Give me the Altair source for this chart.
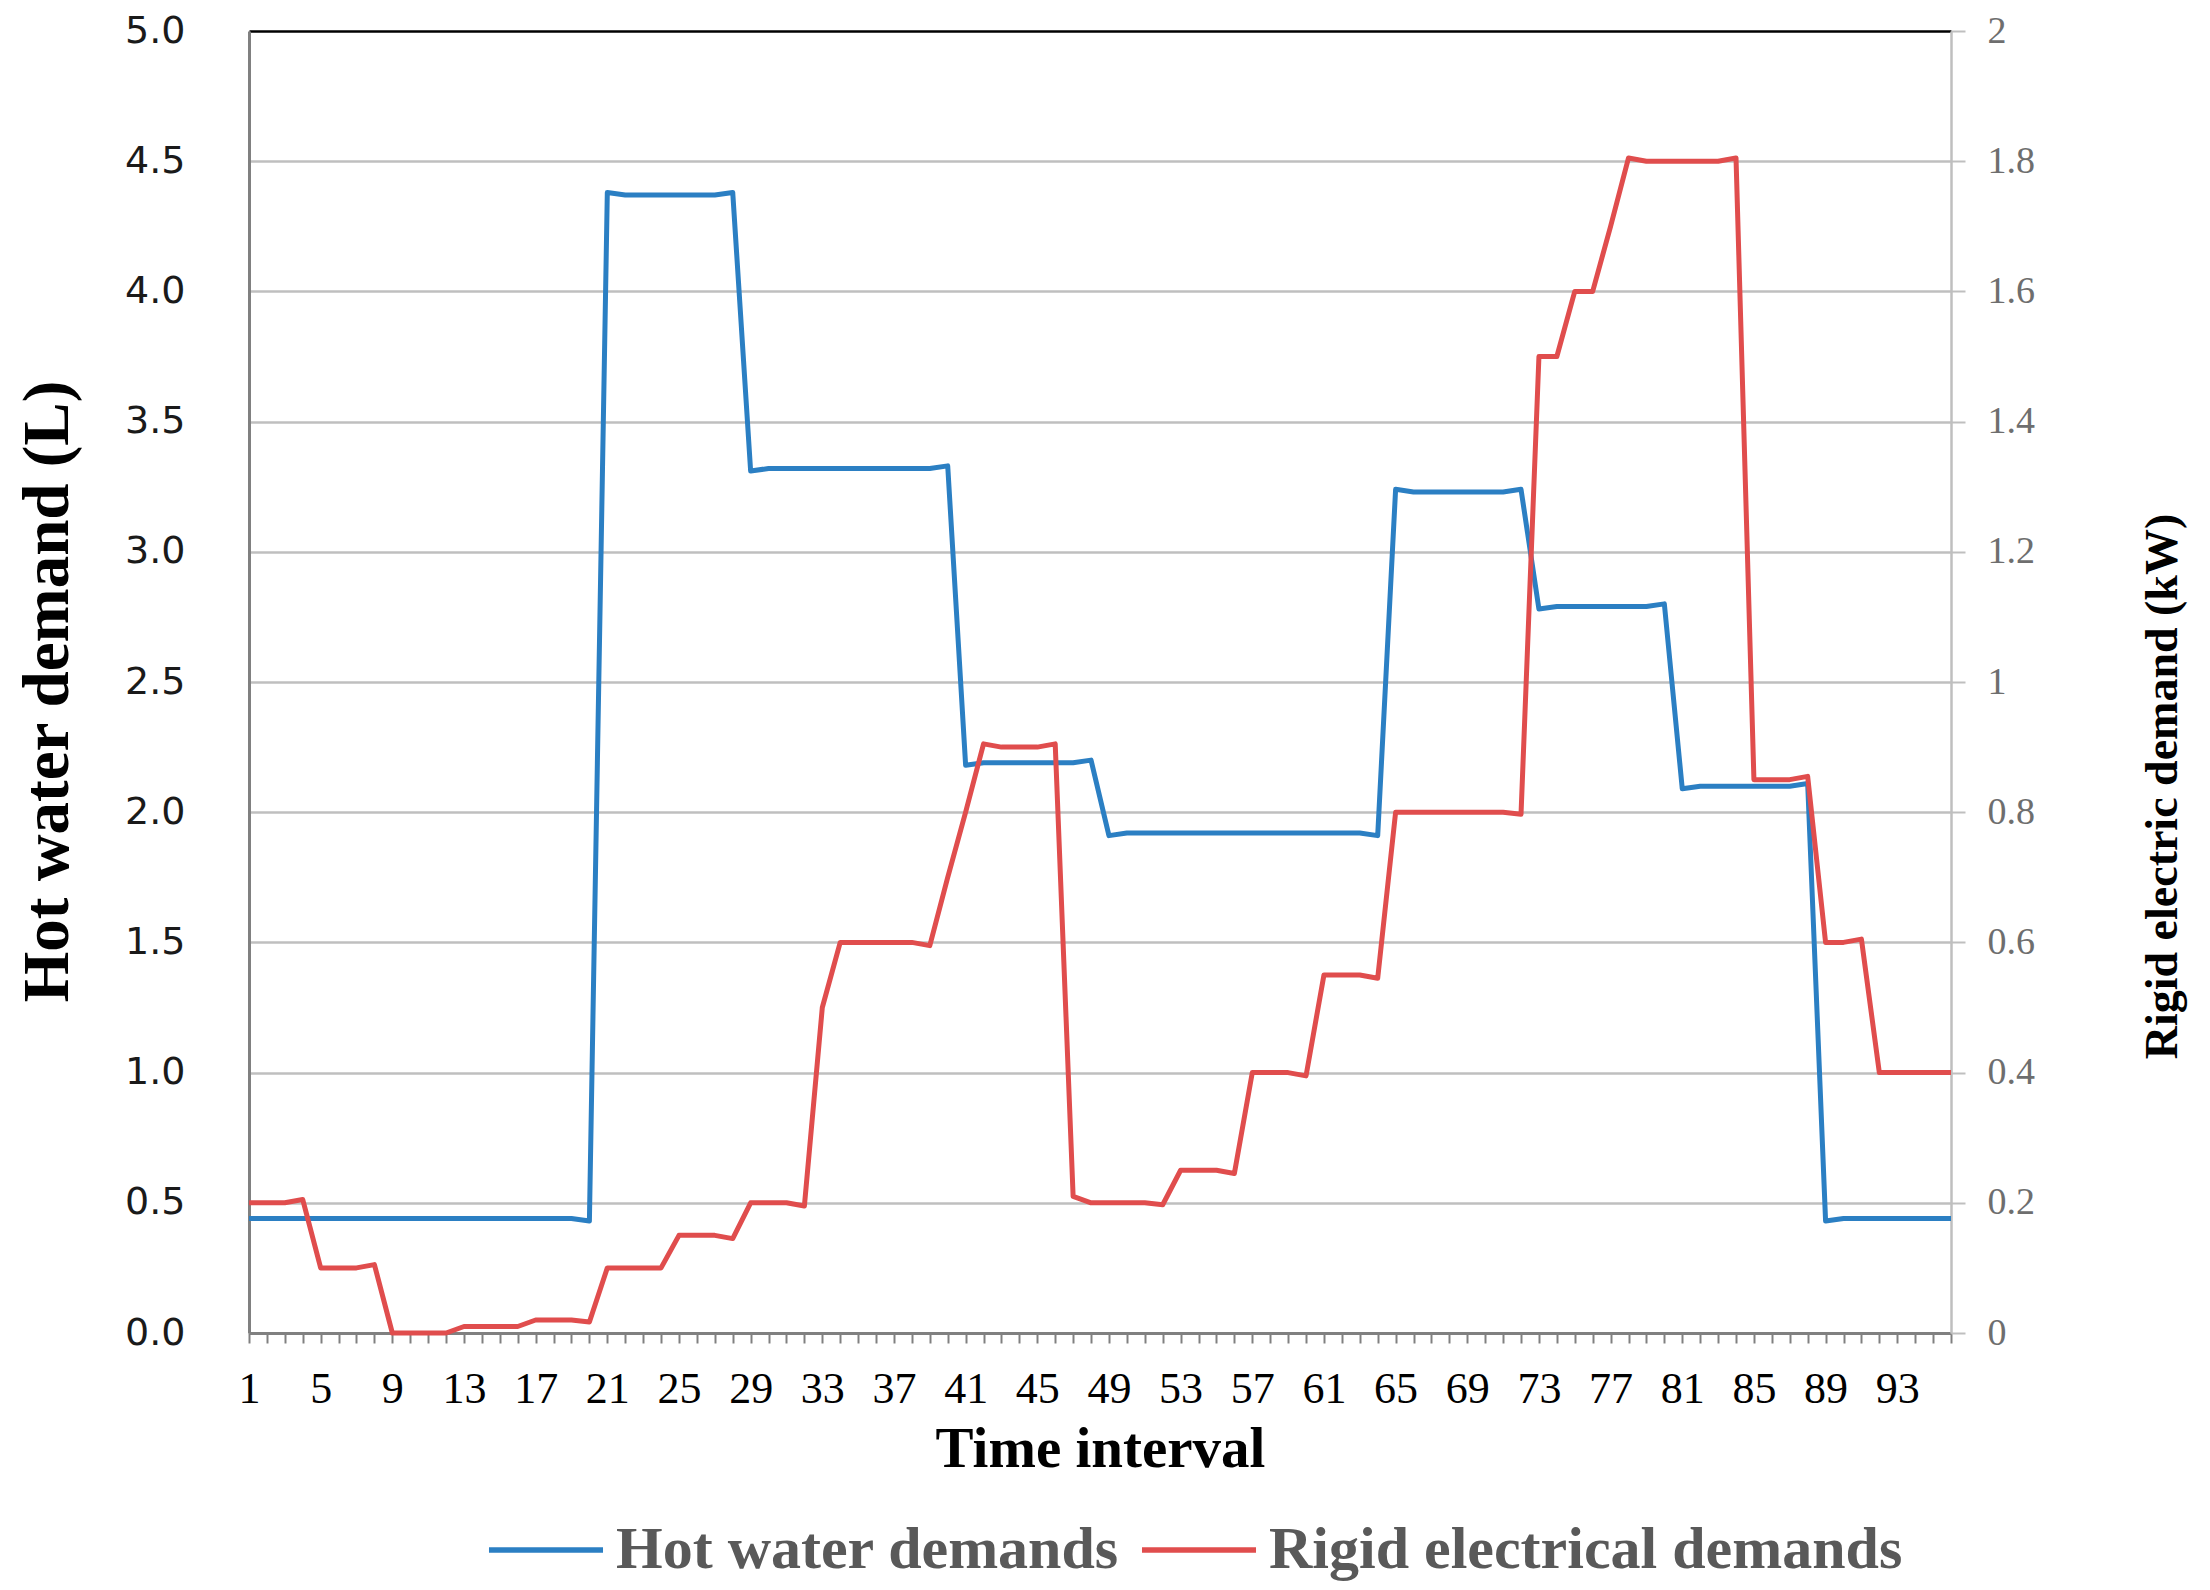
import altair as alt
import pandas as pd

# ---- data ----
intervals = list(range(1, 97))

hot_water = (
    [0.44] * 19 + [0.43] +
    [4.38] + [4.37] * 6 + [4.38] +
    [3.31] + [3.32] * 10 + [3.33] +
    [2.18] + [2.19] * 6 + [2.20] +
    [1.91] + [1.92] * 14 + [1.91] +
    [3.24] + [3.23] * 6 + [3.24] +
    [2.78] + [2.79] * 6 + [2.80] +
    [2.09] + [2.10] * 6 + [2.11] +
    [0.43] + [0.44] * 7
)

rigid = (
    [0.2] * 3 + [0.205] +
    [0.1] * 3 + [0.105] +
    [0.0] * 4 +
    [0.01] * 4 +
    [0.02] * 3 + [0.017] +
    [0.1] * 4 +
    [0.15] * 3 + [0.145] +
    [0.2] * 3 + [0.195] +
    [0.5] + [0.6] * 5 + [0.595] +
    [0.7, 0.8] +
    [0.905] + [0.9] * 3 + [0.905] +
    [0.21] + [0.2] * 4 + [0.197] +
    [0.25] * 3 + [0.245] +
    [0.4] * 3 + [0.395] +
    [0.55] * 3 + [0.545] +
    [0.8] * 7 + [0.797] +
    [1.5] * 2 +
    [1.6] * 2 +
    [1.7] +
    [1.805] + [1.8] * 5 + [1.805] +
    [0.85] * 3 + [0.855] +
    [0.6] * 2 + [0.605] +
    [0.4] * 5
)

series_names = ["Hot water demands", "Rigid electrical demands"]
series_colors = ["#2B7FC3", "#E04D4D"]

left_ticks = [round(v * 0.5, 1) for v in range(0, 11)]
right_ticks = [round(v * 0.2, 1) for v in range(0, 11)]

df = pd.DataFrame({"t": intervals, "hot": hot_water, "rigid": rigid})

W, H = 1702, 1302
SERIF = "Liberation Serif"

x_enc = alt.X(
    "t:Q",
    scale=alt.Scale(domain=[1, 96], nice=False, zero=False),
    axis=alt.Axis(
        values=intervals,
        labelExpr="(datum.value - 1) % 4 == 0 ? datum.label : ''",
        labelOverlap=False,
        labelFlush=False,
        labelFont=SERIF,
        labelFontSize=44,
        labelColor="#000000",
        labelPadding=24,
        tickSize=10,
        tickColor="#808080",
        tickWidth=2,
        domainColor="#808080",
        domainWidth=3,
        grid=False,
        title="Time interval",
        titleFont=SERIF,
        titleFontSize=57,
        titleFontWeight="bold",
        titleColor="#000000",
        titleX=W / 2,
        titleY=116,
        titleBaseline="middle",
        titleAlign="center",
    ),
)

color_scale = alt.Scale(domain=series_names, range=series_colors)
legend = alt.Legend(
    title=None,
    orient="none",
    legendX=237,
    legendY=1459,
    direction="horizontal",
    symbolType="stroke",
    symbolStrokeWidth=5.5,
    symbolSize=13000,
    labelFont=SERIF,
    labelFontSize=60,
    labelFontWeight="bold",
    labelColor="#595959",
    labelLimit=2000,
    labelOffset=10,
    columnPadding=10,
)

base = alt.Chart(df)

blue = base.transform_calculate(series="'Hot water demands'").mark_line(
    interpolate="linear", strokeWidth=5, strokeJoin="round"
).encode(
    x=x_enc,
    y=alt.Y(
        "hot:Q",
        scale=alt.Scale(domain=[0, 5], nice=False),
        axis=alt.Axis(
            orient="left",
            values=left_ticks,
            format=".1f",
            labelFont="DejaVu Sans",
            labelFontSize=38,
            labelColor="#1A1A1A",
            labelPadding=64,
            ticks=False,
            domainColor="#808080",
            domainWidth=3,
            grid=True,
            gridColor={"condition": {"test": "datum.value == 5", "value": "#000000"}, "value": "#BFBFBF"},
            gridWidth=2.5,
            title="Hot water demand (L)",
            titleFont=SERIF,
            titleFontSize=65,
            titleFontWeight="bold",
            titleColor="#000000",
            titleAngle=270,
            titleX=-202,
            titleY=660,
            titleAlign="center",
            titleBaseline="middle",
        ),
    ),
    color=alt.Color("series:N", scale=color_scale, legend=legend),
)

red = base.transform_calculate(series="'Rigid electrical demands'").mark_line(
    interpolate="linear", strokeWidth=5, strokeJoin="round"
).encode(
    x=x_enc,
    y=alt.Y(
        "rigid:Q",
        scale=alt.Scale(domain=[0, 2], nice=False),
        axis=alt.Axis(
            orient="right",
            values=right_ticks,
            format="~g",
            labelFont=SERIF,
            labelFontSize=38,
            labelColor="#6E6E6E",
            labelPadding=22,
            tickSize=14,
            tickColor="#BFBFBF",
            tickWidth=2,
            domainColor="#BFBFBF",
            domainWidth=2.5,
            grid=False,
            title="Rigid electric demand (kW)",
            titleFont=SERIF,
            titleFontSize=46,
            titleFontWeight="bold",
            titleColor="#000000",
            titleAngle=270,
            titleX=211,
            titleY=755,
            titleAlign="center",
            titleBaseline="middle",
        ),
    ),
    color=alt.Color("series:N", scale=color_scale, legend=legend),
)

chart = (
    alt.layer(blue, red)
    .resolve_scale(y="independent")
    .properties(
        width=W,
        height=H,
        autosize=alt.AutoSizeParams(type="none"),
        padding={"left": 241, "top": 23, "right": 251, "bottom": 257},
        background="#FFFFFF",
    )
    .configure_view(stroke=None)
)

chart.save("out.html", embed_options={"renderer": "svg", "actions": False})
